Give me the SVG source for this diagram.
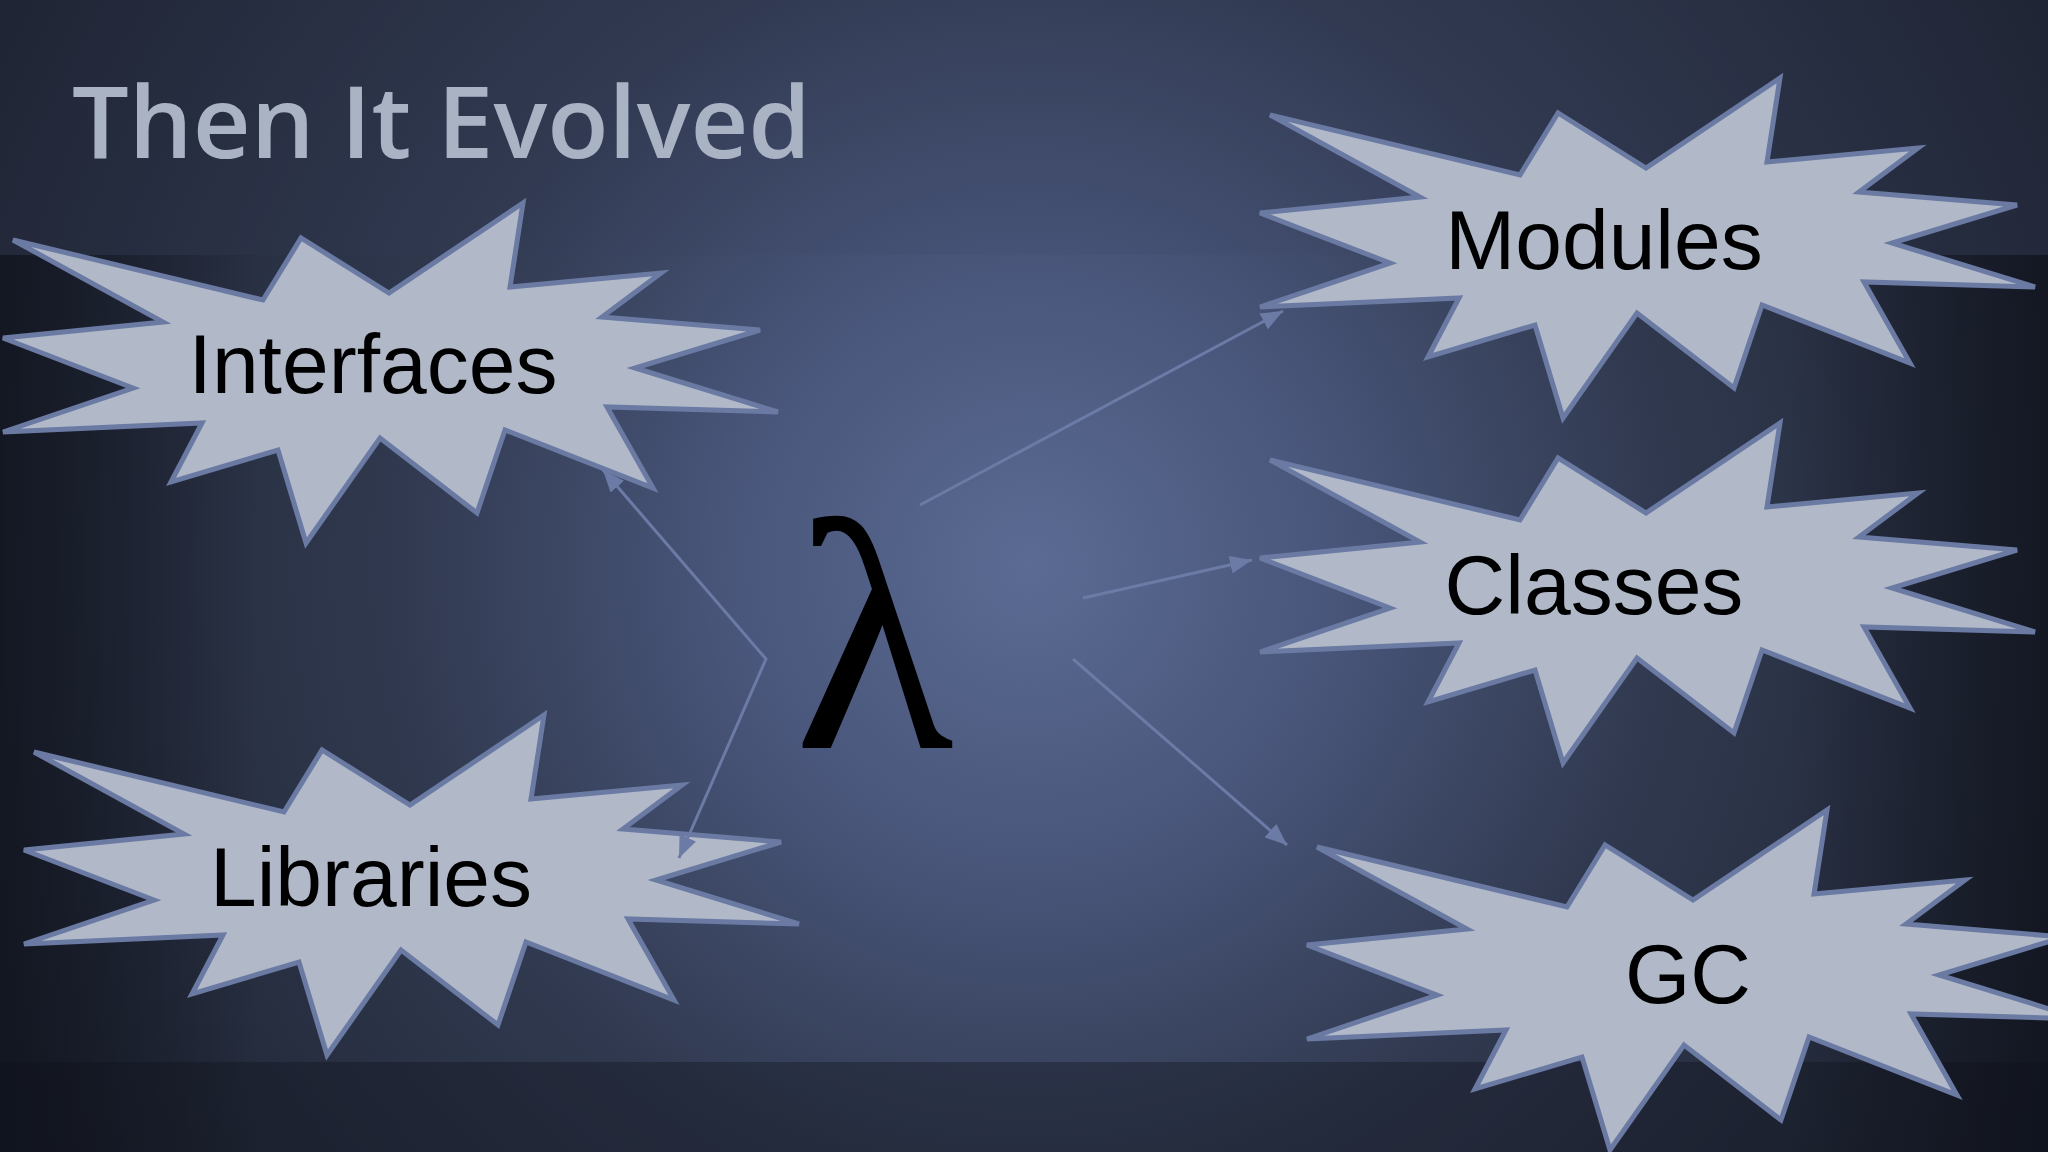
<svg xmlns="http://www.w3.org/2000/svg" xmlns:xlink="http://www.w3.org/1999/xlink" width="2048" height="1152" viewBox="0 0 2048 1152">
  <defs>
    <radialGradient id="bg" cx="1030" cy="565" r="1150" gradientUnits="userSpaceOnUse">
      <stop offset="0" stop-color="#5b6b93"/>
      <stop offset="0.25" stop-color="#4a577c"/>
      <stop offset="0.55" stop-color="#30394f"/>
      <stop offset="1" stop-color="#1d2230"/>
    </radialGradient>
    <linearGradient id="leftShade" x1="0" y1="0" x2="1" y2="0">
      <stop offset="0" stop-color="#0e111a" stop-opacity="0.7"/>
      <stop offset="1" stop-color="#0e111a" stop-opacity="0"/>
    </linearGradient>
    <linearGradient id="rightShade" x1="1" y1="0" x2="0" y2="0">
      <stop offset="0" stop-color="#0e111a" stop-opacity="0.7"/>
      <stop offset="1" stop-color="#0e111a" stop-opacity="0"/>
    </linearGradient>
    <polygon id="star" points="13,240 263,300 301,238 389,293 523,203 510,287 661,273 602,317 760,330 635,368 778,412 607,407 653,488 505,430 477,513 380,438 306,543 278,450 171,482 202,423 3,432 133,388 3,338 163,322"/>
    <marker id="arrow" viewBox="0 0 10 10" refX="10" refY="5" markerUnits="userSpaceOnUse" markerWidth="22" markerHeight="18" preserveAspectRatio="none" orient="auto-start-reverse">
      <path d="M0,0 L10,5 L0,10 z" fill="#6b7ba6"/>
    </marker>
    <style>
      .burst { fill: #b1b9c9; stroke: #6a7aa3; stroke-width: 5; stroke-linejoin: miter; }
      .label { font-family: "Liberation Sans", Arial, sans-serif; font-size: 84px; fill: #000000; text-anchor: middle; }
      .conn { fill: none; stroke: #6b7ba6; stroke-width: 3; }
      .title { font-family: "Open Sans", "Noto Sans", sans-serif; font-weight: 600; font-size: 100px; fill: #aab3c4; }
      .lambda { font-family: "Liberation Serif", "Times New Roman", serif; font-size: 330px; fill: #000000; text-anchor: middle; }
    </style>
  </defs>

  <g id="background">
    <rect x="0" y="0" width="2048" height="1152" fill="url(#bg)"/>
    <rect x="0" y="255" width="260" height="897" fill="url(#leftShade)"/>
    <rect x="1788" y="255" width="260" height="897" fill="url(#rightShade)"/>
    <rect x="0" y="1062" width="2048" height="90" fill="#0e111a" opacity="0.35"/>
    <rect x="0" y="0" width="2048" height="255" fill="#3a4460" opacity="0.12"/>
  </g>

  <g id="title">
    <text class="title" x="72" y="158" textLength="739" lengthAdjust="spacingAndGlyphs">Then It Evolved</text>
  </g>

  <g id="lambda">
    <text class="lambda" x="874" y="748">λ</text>
  </g>

  <g id="node-interfaces">
    <use xlink:href="#star" href="#star" class="burst"/>
    <text class="label" x="373" y="393">Interfaces</text>
  </g>

  <g id="node-libraries">
    <use xlink:href="#star" href="#star" class="burst" transform="translate(21,512)"/>
    <text class="label" x="371" y="906">Libraries</text>
  </g>

  <g id="node-modules">
    <use xlink:href="#star" href="#star" class="burst" transform="translate(1257,-125)"/>
    <text class="label" x="1604" y="269">Modules</text>
  </g>

  <g id="node-classes">
    <use xlink:href="#star" href="#star" class="burst" transform="translate(1257,220)"/>
    <text class="label" x="1594" y="614">Classes</text>
  </g>

  <g id="node-gc">
    <use xlink:href="#star" href="#star" class="burst" transform="translate(1304,607)"/>
    <text class="label" x="1688" y="1003">GC</text>
  </g>

  <g id="connectors">
    <polyline class="conn" points="679,858 766,659 603,470" marker-start="url(#arrow)" marker-end="url(#arrow)"/>
    <line class="conn" x1="920" y1="505" x2="1283" y2="311" marker-end="url(#arrow)"/>
    <line class="conn" x1="1083" y1="598" x2="1252" y2="560" marker-end="url(#arrow)"/>
    <line class="conn" x1="1073" y1="659" x2="1287" y2="845" marker-end="url(#arrow)"/>
  </g>
</svg>
